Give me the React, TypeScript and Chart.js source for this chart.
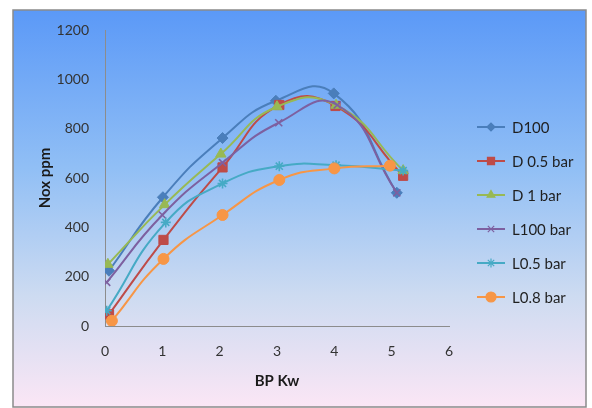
import { useEffect, useRef } from 'react';
import { Chart, registerables } from 'chart.js';
import { drawPoint } from 'chart.js/helpers';

Chart.register(...registerables);

// Brake power (kW) and NOx (ppm) per configuration
const seriesNames = ['D100', 'D 0.5 bar', 'D 1 bar', 'L100 bar', 'L0.5 bar', 'L0.8 bar'];

const bpD100 = [0.07, 1.01, 2.05, 2.98, 3.99, 5.09];
const noxD100 = [224, 522, 762, 913, 943, 540];

const bpD05 = [0.07, 1.02, 2.05, 3.04, 4.02, 5.2];
const noxD05 = [47, 349, 643, 896, 892, 609];

const bpD1 = [0.05, 1.04, 2.02, 3.0, 4.03, 5.2];
const noxD1 = [250, 492, 697, 889, 895, 630];

const bpL100 = [0.03, 1.0, 2.05, 3.03, 4.05, 5.09];
const noxL100 = [177, 450, 662, 824, 896, 540];

const bpL05 = [0.03, 1.06, 2.05, 3.04, 4.03, 5.2];
const noxL05 = [62, 420, 578, 648, 652, 630];

const bpL08 = [0.12, 1.02, 2.05, 3.04, 4.0, 4.97];
const noxL08 = [21, 272, 450, 592, 639, 650];

const xTicks = [0, 1, 2, 3, 4, 5, 6];
const yTicks = [0, 200, 400, 600, 800, 1000, 1200];

const colors = ['#4a7ebb', '#be4b48', '#98b954', '#7d60a0', '#46aac5', '#f79646'];
const markers = ['rectRot', 'rect', 'triangle', 'crossRot', 'star', 'circle'];
const markerRadius = [5.5, 6.5, 6, 5, 5, 5.5];
const legendRadius = [4, 5, 4.5, 4.5, 4.5, 5];

const xs = [bpD100, bpD05, bpD1, bpL100, bpL05, bpL08];
const ys = [noxD100, noxD05, noxD1, noxL100, noxL05, noxL08];

const FONT = 'Lato, "Open Sans", sans-serif';

const framePlugin = {
  id: 'frame',
  beforeDraw(chart: any) {
    const { ctx, width, height } = chart;
    ctx.save();
    ctx.fillStyle = '#ffffff';
    ctx.fillRect(0, 0, width, height);
    const left = 13, top = 10, right = 586, bottom = 407;
    const g = ctx.createLinearGradient(0, top, 0, bottom);
    g.addColorStop(0, '#5b99f7');
    g.addColorStop(0.4, '#91bff5');
    g.addColorStop(0.72, '#cddbf1');
    g.addColorStop(1, '#fbe6f5');
    ctx.fillStyle = g;
    ctx.fillRect(left, top, right - left, bottom - top);
    ctx.strokeStyle = '#8a8a8a';
    ctx.lineWidth = 1.5;
    ctx.strokeRect(left, top, right - left, bottom - top);
    ctx.restore();
  },
  afterDraw(chart: any) {
    const { ctx } = chart;
    ctx.save();
    const lineX0 = 477, lineX1 = 505, textX = 512;
    const rowY = [127, 161, 195, 229, 263, 297];
    ctx.font = '15px ' + FONT;
    ctx.textBaseline = 'middle';
    ctx.textAlign = 'left';
    seriesNames.forEach((name, i) => {
      const y = rowY[i];
      ctx.strokeStyle = colors[i];
      ctx.lineWidth = 2;
      ctx.beginPath();
      ctx.moveTo(lineX0, y);
      ctx.lineTo(lineX1, y);
      ctx.stroke();
      ctx.fillStyle = colors[i];
      ctx.lineWidth = 1.2;
      drawPoint(ctx, { pointStyle: markers[i], radius: legendRadius[i], rotation: 0, borderWidth: 1.2 }, (lineX0 + lineX1) / 2, y);
      ctx.fillStyle = '#1f1f1f';
      ctx.fillText(name, textX, y + 1);
    });
    ctx.restore();
  },
};

export default function App() {
  const ref = useRef<HTMLCanvasElement>(null);

  useEffect(() => {
    if (!ref.current) return;
    const chart = new Chart(ref.current, {
      type: 'line',
      data: {
        datasets: seriesNames.map((name, i) => ({
          label: name,
          data: xs[i].map((x, j) => ({ x, y: ys[i][j] })),
          order: seriesNames.length - i,
          borderColor: colors[i],
          backgroundColor: colors[i],
          pointBackgroundColor: colors[i],
          pointBorderColor: colors[i],
          pointStyle: markers[i] as any,
          pointRadius: markerRadius[i],
          pointBorderWidth: markers[i] === 'crossRot' || markers[i] === 'star' ? 1.6 : 1,
          borderWidth: 2,
          tension: 0.5,
          fill: false,
        })),
      },
      options: {
        animation: false,
        responsive: false,
        events: [],
        layout: { padding: { left: 0, top: 30, right: 143, bottom: 0 } },
        plugins: { legend: { display: false }, tooltip: { enabled: false } },
        scales: {
          x: {
            type: 'linear',
            min: 0,
            max: 6,
            afterBuildTicks: (s: any) => { s.ticks = xTicks.map((v) => ({ value: v })); },
            afterFit: (s: any) => { s.height = 82; },
            grid: { display: false, drawTicks: false },
            border: { display: true, color: '#8c8c8c', width: 1 },
            ticks: {
              padding: 17,
              color: '#333333',
              font: { family: FONT, size: 14 },
              callback: (v: any) => String(v),
            },
            title: {
              display: true,
              text: 'BP Kw',
              color: '#1a1a1a',
              font: { family: FONT, size: 15, weight: 'bold' },
              padding: { top: 0, bottom: 18 },
            },
          },
          y: {
            min: 0,
            max: 1200,
            afterBuildTicks: (s: any) => { s.ticks = yTicks.map((v) => ({ value: v })); },
            afterFit: (s: any) => { s.width = 105; },
            grid: { display: false, drawTicks: false },
            border: { display: true, color: '#8c8c8c', width: 1 },
            ticks: {
              padding: 16,
              color: '#333333',
              font: { family: FONT, size: 14 },
              callback: (v: any) => String(v),
            },
            title: {
              display: true,
              text: 'Nox ppm',
              color: '#1a1a1a',
              font: { family: FONT, size: 15, weight: 'bold' },
              padding: { top: 36, bottom: 0 },
            },
          },
        },
      },
      plugins: [framePlugin],
    });
    return () => chart.destroy();
  }, []);

  return (
    <div style={{ position: 'fixed', left: 0, top: 0, width: 592, height: 408 }}>
      <canvas ref={ref} width={592} height={408} style={{ display: 'block' }} />
    </div>
  );
}
